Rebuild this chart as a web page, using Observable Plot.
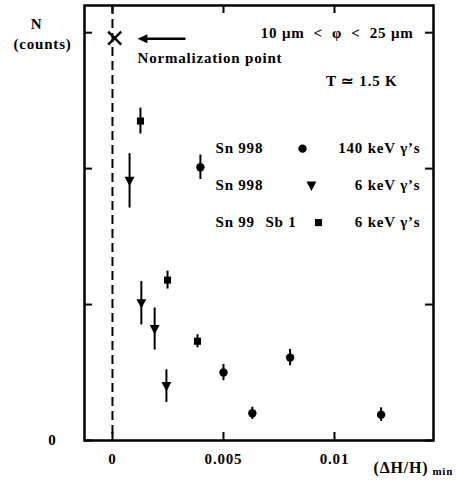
<!DOCTYPE html>
<html><head><meta charset="utf-8">
<script src="https://cdn.jsdelivr.net/npm/d3@7"></script>
<script src="https://cdn.jsdelivr.net/npm/@observablehq/plot@0.6"></script>
<style>body{margin:0;background:#fff} svg{display:block} #chart svg text{letter-spacing:0.8px}</style>
</head><body><div id="chart"></div>
<script>
// Sn 998, 140 keV gamma's (circles)
const circlesX = [0.00396, 0.0050, 0.0063, 0.0080, 0.0121];
const circlesY = [2.01, 0.50, 0.20, 0.61, 0.19];
const circlesErr = [0.09, 0.06, 0.045, 0.06, 0.05];
// Sn 998, 6 keV gamma's (down triangles)
const trianglesX = [0.00077, 0.0013, 0.0019, 0.00243];
const trianglesY = [1.91, 1.01, 0.82, 0.40];
const trianglesErr = [0.2, 0.16, 0.155, 0.12];
// Sn 99 Sb 1, 6 keV gamma's (squares)
const squaresX = [0.00126, 0.00248, 0.00383];
const squaresY = [2.35, 1.18, 0.73];
const squaresErr = [0.095, 0.066, 0.048];
// normalization point
const normX = [0.0001];
const normY = [2.96];
// ticks
const xTicks = [0, 0.005, 0.01];
const xTickLabels = ["0", "0.005", "0.01"];
const yTicks = [0, 1, 2, 3];
const yTickLabels = ["0", "", "", ""];

const W = 460, H = 483, mL = 84, mR = 27, mT = 5, mB = 43;
const fw = W - mL - mR, fh = H - mT - mB, tl = 8;
const xDomain = [-0.00126, 0.01446];
const yDomain = [0, 3.2];

const tbl = (xs, ys, es) => xs.map((x, i) => ({x, y: ys[i], e: es[i]}));
const circles = tbl(circlesX, circlesY, circlesErr);
const triangles = tbl(trianglesX, trianglesY, trianglesErr);
const squares = tbl(squaresX, squaresY, squaresErr);
const norm = normX.map((x, i) => ({x, y: normY[i]}));

const triangleDown = {
  draw(context, size) {
    const r = Math.sqrt(size / Math.PI);
    context.moveTo(-1.1 * r, -0.9 * r);
    context.lineTo(1.1 * r, -0.9 * r);
    context.lineTo(0, 1.2 * r);
    context.closePath();
  }
};
// arrow head pointing left, tip at the anchor point
const headLeft = {
  draw(context, size) {
    const r = Math.sqrt(size / Math.PI);
    context.moveTo(0, 0);
    context.lineTo(2.2 * r, -r);
    context.lineTo(2.2 * r, r);
    context.closePath();
  }
};

// annotation texts (legend rows and labels)
const leftTexts = [
  {x: 0.00464, y: 2.147, t: "Sn 998"},
  {x: 0.00464, y: 1.875, t: "Sn 998"},
  {x: 0.00464, y: 1.603, t: "Sn 99"},
  {x: 0.00689, y: 1.603, t: "Sb 1"},
  {x: 0.00113, y: 2.816, t: "Normalization point"}
];
const rightTexts = [
  {x: 0.01387, y: 2.147, t: "140 keV \u03b3\u2019s"},
  {x: 0.01387, y: 1.875, t: "6 keV \u03b3\u2019s"},
  {x: 0.01387, y: 1.603, t: "6 keV \u03b3\u2019s"},
  {x: 0.01356, y: 3.0, t: "10 \u03bcm\u00a0\u00a0<\u00a0\u00a0\u03c6\u00a0\u00a0<\u00a0\u00a025 \u03bcm"},
  {x: 0.01284, y: 2.64, t: "T \u2243 1.5 K"}
];
const legendMarks = [
  {x: 0.00856, y: 2.147, k: "c"},
  {x: 0.00896, y: 1.875, k: "t"},
  {x: 0.00928, y: 1.603, k: "s"}
];
const arrowData = [{x1: 0.00329, x2: 0.00113, y: 2.955}];

const font = "Liberation Serif, Times New Roman, serif";

const chart = Plot.plot({
  width: W, height: H,
  marginLeft: mL, marginRight: mR, marginTop: mT, marginBottom: mB,
  x: {domain: xDomain},
  y: {domain: yDomain},
  style: {fontFamily: font, fontWeight: "bold", fontSize: "15px", color: "black", background: "white"},
  marks: [
    Plot.ruleX([0], {strokeDasharray: "9,5", strokeWidth: 2}),
    Plot.frame({strokeWidth: 2.5}),
    Plot.tickX(xTicks, {x: d => d, insetTop: fh - tl, strokeWidth: 2}),
    Plot.tickX(xTicks, {x: d => d, insetBottom: fh - tl, strokeWidth: 2}),
    Plot.tickY(yTicks, {y: d => d, insetRight: fw - tl, strokeWidth: 2}),
    Plot.tickY(yTicks, {y: d => d, insetLeft: fw - tl, strokeWidth: 2}),
    Plot.axisX(xTicks, {tickSize: 0, tickPadding: 13, label: null, tickFormat: d => xTickLabels[xTicks.indexOf(d)], fontSize: 15}),
    Plot.axisY(yTicks, {tickSize: 0, tickPadding: 28, label: null, tickFormat: d => yTickLabels[yTicks.indexOf(d)], fontSize: 15}),
    // error bars
    Plot.ruleX(circles, {x: "x", y1: d => d.y - d.e, y2: d => d.y + d.e, strokeWidth: 2}),
    Plot.ruleX(triangles, {x: "x", y1: d => d.y - d.e, y2: d => d.y + d.e, strokeWidth: 2}),
    Plot.ruleX(squares, {x: "x", y1: d => d.y - d.e, y2: d => d.y + d.e, strokeWidth: 2}),
    Plot.dot(circles, {x: "x", y: "y", r: 4.2, fill: "black", symbol: "circle"}),
    Plot.dot(triangles, {x: "x", y: "y", r: 4.5, fill: "black", symbol: triangleDown}),
    Plot.dot(squares, {x: "x", y: "y", r: 4, fill: "black", symbol: "square"}),
    Plot.dot(norm, {x: "x", y: "y", r: 6, stroke: "black", strokeWidth: 2.5, symbol: "times"}),
    // normalization arrow
    Plot.link(arrowData, {x1: "x1", x2: d => d.x2 + 0.0003, y1: "y", y2: "y", strokeWidth: 2.5}),
    Plot.dot(arrowData, {x: "x2", y: "y", r: 4.5, fill: "black", symbol: headLeft}),
    // legend markers
    Plot.dot(legendMarks.filter(d => d.k === "c"), {x: "x", y: "y", r: 4.2, fill: "black", symbol: "circle"}),
    Plot.dot(legendMarks.filter(d => d.k === "t"), {x: "x", y: "y", r: 4.5, fill: "black", symbol: triangleDown}),
    Plot.dot(legendMarks.filter(d => d.k === "s"), {x: "x", y: "y", r: 4, fill: "black", symbol: "square"}),
    Plot.text(leftTexts, {x: "x", y: "y", text: "t", textAnchor: "start", fontSize: 15, fill: "black"}),
    Plot.text(rightTexts, {x: "x", y: "y", text: "t", textAnchor: "end", fontSize: 15, fill: "black"}),
    // y label in margin
    Plot.text([{x: -0.00342, y: 3.066, t: "N"}, {x: -0.00315, y: 2.919, t: "(counts)"}], {x: "x", y: "y", text: "t", fontSize: 15, fill: "black"}),
    // x label
    Plot.text([{x: 0.01176, y: -0.199, t: "(\u0394H/H)"}], {x: "x", y: "y", text: "t", textAnchor: "start", fontSize: 16, fill: "black"}),
    Plot.text([{x: 0.01441, y: -0.228, t: "min"}], {x: "x", y: "y", text: "t", textAnchor: "start", fontSize: 11, fill: "black"})
  ]
});
document.getElementById("chart").appendChild(chart);
</script>
</body></html>
